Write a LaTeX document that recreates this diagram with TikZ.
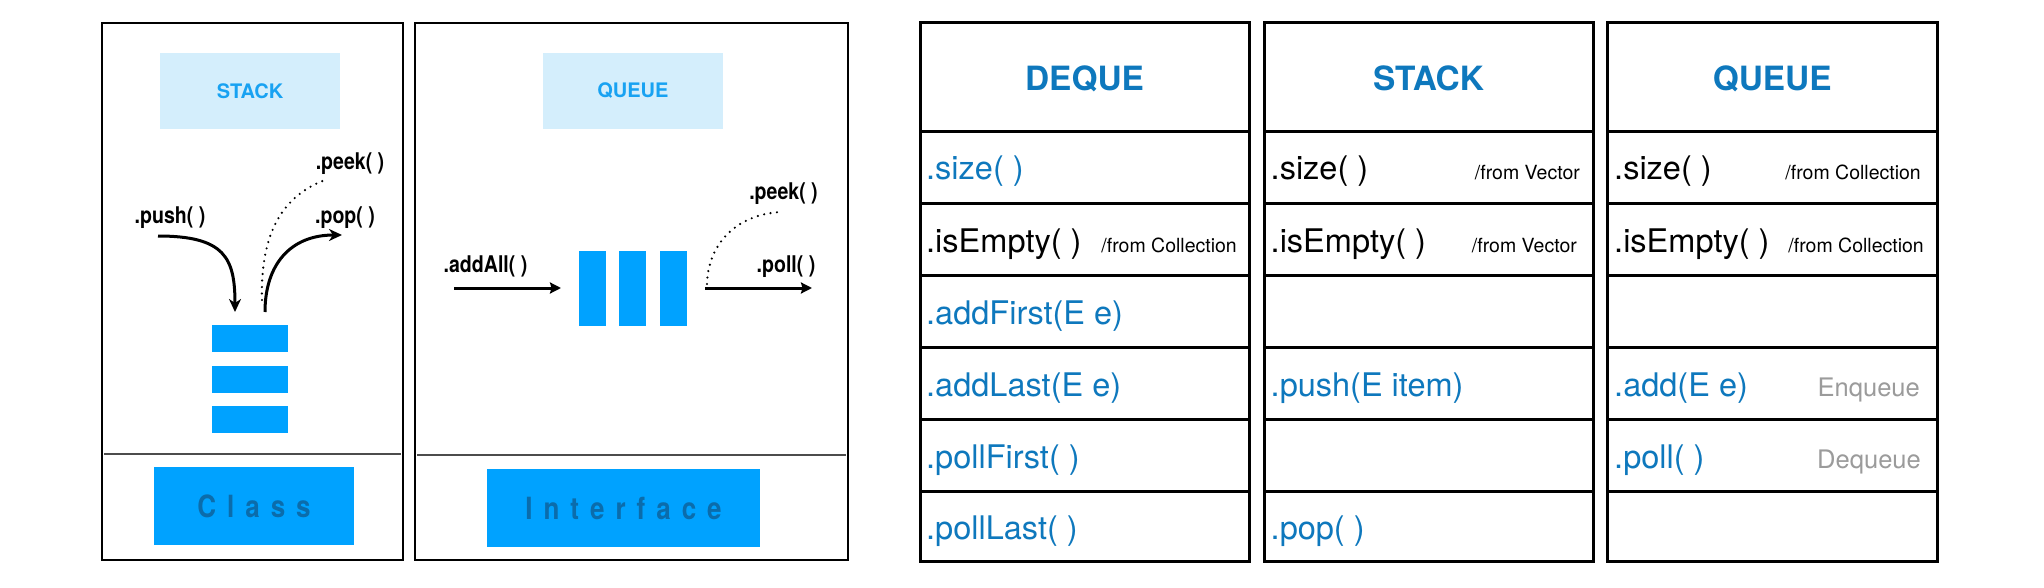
\documentclass[tikz,border=0pt]{standalone}
\usepackage{fontspec}
\setmainfont{TeX Gyre Heros}
\newfontfamily\condfont[FakeStretch=0.85]{TeX Gyre Heros}
\usetikzlibrary{arrows.meta}
\definecolor{tblue}{HTML}{0E78BD}
\definecolor{skyblue}{HTML}{00A2FF}
\definecolor{lightbg}{HTML}{D4EEFC}
\definecolor{lighttext}{HTML}{18A2F2}
\definecolor{classtext}{HTML}{0B6CAB}
\definecolor{grayt}{HTML}{9B9B9B}
\begin{document}
\begin{tikzpicture}[x=1pt,y=-1pt,
  frame/.style={draw=black, line width=2.5pt},
  divider/.style={draw=black!70, line width=2pt},
  lightbox/.style={fill=lightbg, inner sep=0pt, text=lighttext, font=\bfseries\fontsize{20}{24}\selectfont},
  block/.style={fill=skyblue, inner sep=0pt},
  classbox/.style={fill=skyblue, inner sep=0pt, text=classtext, font=\condfont\bfseries\fontsize{30.6}{36}\selectfont},
  lbl/.style={inner sep=0pt, font=\condfont\bfseries\fontsize{23}{27}\selectfont, anchor=base},
  arr/.style={line width=3pt, -{Stealth[length=13pt,width=12pt,inset=4pt]}},
  qarr/.style={line width=3pt, -{Stealth[length=11pt,width=11pt,inset=1.5pt]}},
  dots/.style={line width=2.4pt, line cap=round, dash pattern=on 0pt off 6.5pt},
  tbl/.style={draw=black, line width=3pt},
  hdr/.style={inner sep=0pt, anchor=base, text=tblue, font=\bfseries\fontsize{33.4}{40}\selectfont},
  cell/.style={inner sep=0pt, anchor=base west, font=\fontsize{32.5}{39}\selectfont},
  note/.style={inner sep=0pt, anchor=base east, font=\fontsize{19.5}{23}\selectfont},
  gnote/.style={inner sep=0pt, anchor=base east, text=grayt, font=\fontsize{25.5}{30}\selectfont}
]
\useasboundingbox (0,0) rectangle (2044,588);
\fill[white] (0,0) rectangle (2044,588);

% ---------- left panel: STACK class ----------
\draw[frame] (102,23) rectangle (403,560);
\draw[divider] (104,453.5) -- (401,453.5);
\node[lightbox, minimum width=179.5pt, minimum height=76pt] (stacklbl) at (250.1,91) {STACK};
\node[block, minimum width=76pt, minimum height=27pt] (s1) at (250,338.5) {};
\node[block, minimum width=76pt, minimum height=27pt] (s2) at (250,379) {};
\node[block, minimum width=76pt, minimum height=27pt] (s3) at (250,419) {};
\node[classbox, minimum width=200pt, minimum height=78pt] (cls) at (254,506)
  {C\kern11pt l\kern11pt a\kern11pt s\kern11pt s};

\coordinate (pushS) at (158,236);
\coordinate (pushE) at (235,312);
\coordinate (popS) at (265,312);
\coordinate (popE) at (342,235);
\coordinate (peekS) at (262,300);
\coordinate (peekE) at (325,180);
\draw[arr] (pushS) .. controls (225,236) and (235,258) .. (pushE);
\draw[arr] (popS) .. controls (265,265) and (290,235) .. (popE);
\draw[dots] (peekS) .. controls (260,230) and (285,195) .. (peekE);
\node[lbl] (pushl) at (170,223.3) {.push( )};
\node[lbl] (popl) at (345,223.3) {.pop( )};
\node[lbl] (peekl) at (350,169.3) {.peek( )};

% ---------- middle panel: QUEUE interface ----------
\draw[frame] (415,23) rectangle (848,560);
\draw[divider] (417,454.5) -- (846,454.5);
\node[lightbox, minimum width=179.7pt, minimum height=76pt] (queuelbl) at (632.9,91) {QUEUE};
\node[block, minimum width=26.5pt, minimum height=75.3pt] (q1) at (592.5,288.3) {};
\node[block, minimum width=26.7pt, minimum height=75.3pt] (q2) at (632.7,288.3) {};
\node[block, minimum width=26.7pt, minimum height=75.3pt] (q3) at (673.3,288.3) {};
\node[classbox, minimum width=273pt, minimum height=78pt] (intf) at (623.5,508)
  {I\kern11pt n\kern11pt t\kern11pt e\kern11pt r\kern11pt f\kern11pt a\kern11pt c\kern11pt e};

\coordinate (addS) at (454,288);
\coordinate (addE) at (561,288);
\coordinate (pollS) at (705,288);
\coordinate (pollE) at (812,288);
\coordinate (qpeekS) at (707,284);
\coordinate (qpeekE) at (780,212);
\draw[qarr] (addS) -- (addE);
\draw[qarr] (pollS) -- (pollE);
\draw[dots] (qpeekS) .. controls (708,245) and (735,215) .. (qpeekE);
\node[lbl] (addl) at (485.5,272.7) {.addAll( )};
\node[lbl] (polll) at (786,272.7) {.poll( )};
\node[lbl] (qpeekl) at (783.5,200) {.peek( )};

% ---------- tables ----------
\foreach \xl/\xr in {920/1249, 1264/1593, 1607.5/1937}{
  \draw[tbl] (\xl,22.7) rectangle (\xr,561.7);
  \foreach \yy in {131.7,203.7,275.7,347.7,419.7,491.7}{
    \draw[tbl] (\xl,\yy) -- (\xr,\yy);
  }
}
\node[hdr] (dqh) at (1084.5,90.7) {DEQUE};
\node[hdr] (sth) at (1428.5,90.7) {STACK};
\node[hdr] (quh) at (1772.2,90.7) {QUEUE};

% DEQUE column
\node[cell, text=tblue] (d1) at (926,180) {.size( )};
\node[cell] (d2) at (926,252) {.isEmpty( )};
\node[note] (d2n) at (1237,252) {/from Collection};
\node[cell, text=tblue] (d3) at (926,324) {.addFirst(E e)};
\node[cell, text=tblue] (d4) at (926,396) {.addLast(E e)};
\node[cell, text=tblue] (d5) at (926,468) {.pollFirst( )};
\node[cell, text=tblue] (d6) at (926,539) {.pollLast( )};

% STACK column
\node[cell] (s1t) at (1270.5,180) {.size( )};
\node[note] (s1n) at (1580,180) {/from Vector};
\node[cell] (s2t) at (1270.5,252) {.isEmpty( )};
\node[note] (s2n) at (1577,252) {/from Vector};
\node[cell, text=tblue] (s4t) at (1270.5,396) {.push(E item)};
\node[cell, text=tblue] (s6t) at (1270.5,539) {.pop( )};

% QUEUE column
\node[cell] (q1t) at (1614,180) {.size( )};
\node[note] (q1n) at (1921,180) {/from Collection};
\node[cell] (q2t) at (1614,252) {.isEmpty( )};
\node[note] (q2n) at (1924,252) {/from Collection};
\node[cell, text=tblue] (q4t) at (1614,396) {.add(E e)};
\node[gnote] (q4n) at (1920,396) {Enqueue};
\node[cell, text=tblue] (q5t) at (1614,468) {.poll( )};
\node[gnote] (q5n) at (1921,468) {Dequeue};
\end{tikzpicture}
\end{document}
